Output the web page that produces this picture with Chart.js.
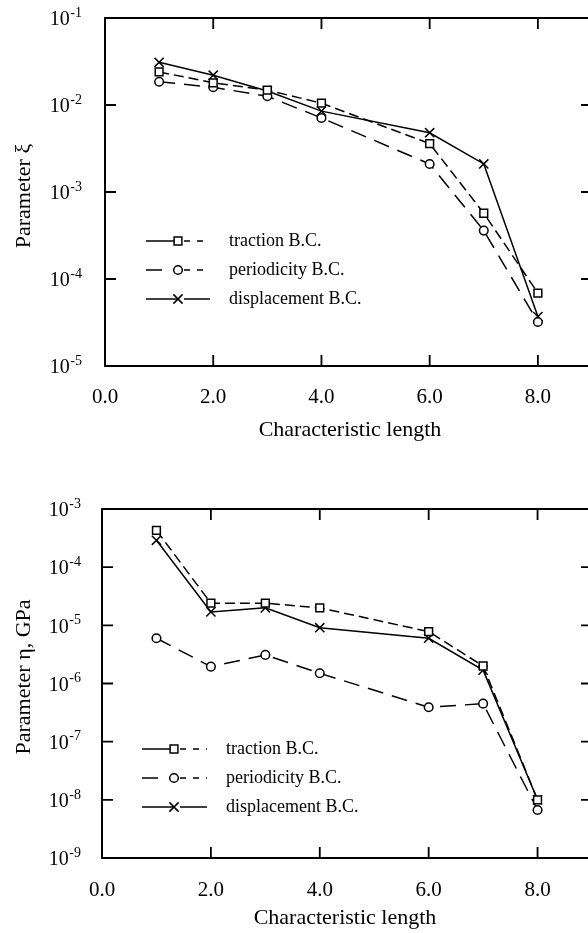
<!DOCTYPE html>
<html>
<head>
<meta charset="utf-8">
<script src="https://cdn.jsdelivr.net/npm/chart.js@4.4.1/dist/chart.umd.min.js"></script>
<style>
  html, body { margin: 0; padding: 0; background: #fff; overflow: hidden; width: 588px; height: 933px; }
  .wrap { position: absolute; left: 0; width: 600px; }
</style>
</head>
<body>
<div class="wrap" style="top:0;height:460px"><canvas id="xiChart" width="600" height="460"></canvas></div>
<div class="wrap" style="top:460px;height:473px"><canvas id="etaChart" width="600" height="473"></canvas></div>
<script>
// characteristic length (x)
const lengths = [1, 2, 3, 4, 6, 7, 8];
const seriesNames = ["traction B.C.", "periodicity B.C.", "displacement B.C."];

// parameter xi (top)
const xiTraction = [0.024, 0.018, 0.0148, 0.0105, 0.0036, 0.00057, 0.000069];
const xiPeriodicity = [0.0185, 0.016, 0.0126, 0.0071, 0.0021, 0.00036, 0.000032];
const xiDisplacement = [0.031, 0.022, 0.0145, 0.0085, 0.0048, 0.0021, 0.000037];

// parameter eta, GPa (bottom)
const etaTraction = [4.3e-4, 2.4e-5, 2.4e-5, 2.0e-5, 7.8e-6, 2.0e-6, 1.0e-8];
const etaPeriodicity = [6.0e-6, 1.95e-6, 3.1e-6, 1.5e-6, 3.9e-7, 4.5e-7, 6.7e-9];
const etaDisplacement = [2.9e-4, 1.7e-5, 2.0e-5, 9.1e-6, 6.0e-6, 1.7e-6, 1.0e-8];

// tick labels
const xTicks = [0, 2, 4, 6, 8];
const xiTicks = [1e-5, 1e-4, 1e-3, 1e-2, 1e-1];
const etaTicks = [1e-9, 1e-8, 1e-7, 1e-6, 1e-5, 1e-4, 1e-3];

const SERIF = '"Liberation Serif", "Times New Roman", serif';

// legend samples: pattern left of the marker, pattern right of it
const styles = [
  { pointStyle: "rect", pointRadius: 5.5, borderDash: [10, 5], legendLeft: [], legendRight: [6, 7] },
  { pointStyle: "circle", pointRadius: 4.3, borderDash: [16, 9], legendLeft: [16, 40], legendRight: [6, 7] },
  { pointStyle: "crossRot", pointRadius: 6.5, borderDash: [], legendLeft: [], legendRight: [] },
];

function marker(ctx, style, x, y) {
  ctx.save();
  ctx.setLineDash([]);
  ctx.lineWidth = 1.5;
  ctx.strokeStyle = "#000";
  ctx.fillStyle = "#fff";
  ctx.beginPath();
  if (style === "rect") {
    const s = 3.9;
    ctx.rect(x - s, y - s, 2 * s, 2 * s);
    ctx.fill();
  } else if (style === "circle") {
    ctx.arc(x, y, 4.3, 0, Math.PI * 2);
    ctx.fill();
  } else {
    const s = 4.6;
    ctx.moveTo(x - s, y - s); ctx.lineTo(x + s, y + s);
    ctx.moveTo(x - s, y + s); ctx.lineTo(x + s, y - s);
  }
  ctx.stroke();
  ctx.restore();
}

// frame, inward ticks, superscript labels, titles and legend
const paperFrame = {
  id: "paperFrame",
  afterDraw(chart, args, opts) {
    const { ctx, chartArea: a, scales } = chart;
    const xs = scales.x, ys = scales.y;
    ctx.save();
    ctx.strokeStyle = "#000";
    ctx.fillStyle = "#000";
    ctx.lineWidth = 2;
    ctx.strokeRect(a.left, a.top, a.right - a.left, a.bottom - a.top);

    const tl = 11;
    ctx.lineWidth = 1.8;
    ctx.beginPath();
    xs.ticks.forEach((t) => {
      const px = xs.getPixelForValue(t.value);
      if (px <= a.left + 1) return;
      ctx.moveTo(px, a.bottom); ctx.lineTo(px, a.bottom - tl);
      ctx.moveTo(px, a.top); ctx.lineTo(px, a.top + tl);
    });
    ys.ticks.forEach((t) => {
      const py = ys.getPixelForValue(t.value);
      if (py <= a.top + 1 || py >= a.bottom - 1) return;
      ctx.moveTo(a.left, py); ctx.lineTo(a.left + tl, py);
      ctx.moveTo(a.right, py); ctx.lineTo(a.right - tl, py);
    });
    ctx.stroke();

    // x tick labels
    ctx.font = `21px ${SERIF}`;
    ctx.textAlign = "center";
    ctx.textBaseline = "middle";
    xs.ticks.forEach((t) => {
      ctx.fillText(t.value.toFixed(1), xs.getPixelForValue(t.value), a.bottom + opts.xLabelGap);
    });

    // y tick labels, 10 with a raised exponent
    ys.ticks.forEach((t) => {
      const py = ys.getPixelForValue(t.value);
      const exp = String(Math.round(Math.log10(t.value)));
      ctx.font = `14px ${SERIF}`;
      const ew = ctx.measureText(exp).width;
      const ex = a.left - opts.yLabelGap - ew;
      ctx.textAlign = "left";
      ctx.fillText(exp, ex, py - 5);
      ctx.font = `20px ${SERIF}`;
      ctx.textAlign = "right";
      ctx.fillText("10", ex - 0.5, py + 2);
    });

    // axis titles
    ctx.font = `22px ${SERIF}`;
    ctx.textAlign = "center";
    ctx.fillText(opts.xTitle, opts.xTitleX, opts.xTitleY);
    ctx.save();
    ctx.translate(opts.yTitleX, opts.yTitleY);
    ctx.rotate(-Math.PI / 2);
    ctx.fillText(opts.yTitle, 0, 0);
    ctx.restore();

    // legend
    const lg = opts.legend;
    chart.data.datasets.forEach((ds, i) => {
      const y = lg.y + i * lg.dy;
      ctx.save();
      ctx.lineWidth = 1.5;
      ctx.setLineDash(styles[i].legendLeft);
      ctx.beginPath();
      ctx.moveTo(lg.x0, y);
      ctx.lineTo(lg.xm, y);
      ctx.stroke();
      ctx.setLineDash(styles[i].legendRight);
      ctx.beginPath();
      ctx.moveTo(lg.xm + 6, y);
      ctx.lineTo(lg.x1, y);
      ctx.stroke();
      ctx.restore();
      marker(ctx, ds.pointStyle, lg.xm, y);
      ctx.font = `18px ${SERIF}`;
      ctx.textAlign = "left";
      ctx.fillText(ds.label, lg.xt, y);
    });
    ctx.restore();
  },
};

function buildDatasets(values) {
  return values.map((vals, i) => ({
    label: seriesNames[i],
    data: lengths.map((x, j) => ({ x: x, y: vals[j] })),
    borderColor: "#000",
    borderWidth: 1.5,
    borderDash: styles[i].borderDash,
    pointStyle: styles[i].pointStyle,
    pointRadius: styles[i].pointRadius,
    pointBackgroundColor: "#fff",
    pointBorderColor: "#000",
    pointBorderWidth: 1.5,
    tension: 0,
    fill: false,
  }));
}

function makeChart(id, values, yMin, yMax, yTicks, layout, frame) {
  return new Chart(document.getElementById(id), {
    type: "line",
    data: { datasets: buildDatasets(values) },
    options: {
      responsive: false,
      animation: false,
      devicePixelRatio: 1,
      layout: { padding: { top: layout.top, right: layout.right, left: 0, bottom: 0 } },
      plugins: { legend: { display: false }, tooltip: { enabled: false }, paperFrame: frame },
      scales: {
        x: {
          type: "linear",
          min: 0,
          max: 9,
          grid: { display: false, drawTicks: false },
          border: { display: false },
          ticks: { display: false, includeBounds: false },
          afterBuildTicks: (s) => { s.ticks = xTicks.map((v) => ({ value: v })); },
          afterFit: (s) => { s.height = layout.xHeight; },
        },
        y: {
          type: "logarithmic",
          min: yMin,
          max: yMax,
          grid: { display: false, drawTicks: false },
          border: { display: false },
          ticks: { display: false },
          afterBuildTicks: (s) => { s.ticks = yTicks.map((v) => ({ value: v })); },
          afterFit: (s) => { s.width = layout.yWidth; },
        },
      },
    },
    plugins: [paperFrame],
  });
}

makeChart("xiChart", [xiTraction, xiPeriodicity, xiDisplacement], 1e-5, 1e-1, xiTicks,
  { top: 18, right: 4.5, xHeight: 94, yWidth: 105 },
  {
    xTitle: "Characteristic length", xTitleX: 350, xTitleY: 430,
    yTitle: "Parameter \u03BE", yTitleX: 24, yTitleY: 196,
    xLabelGap: 31, yLabelGap: 23,
    legend: { x0: 146, x1: 210, xm: 178, xt: 229, y: 241, dy: 29 },
  });

makeChart("etaChart", [etaTraction, etaPeriodicity, etaDisplacement], 1e-9, 1e-3, etaTicks,
  { top: 49, right: 7.5, xHeight: 75, yWidth: 102 },
  {
    xTitle: "Characteristic length", xTitleX: 345, xTitleY: 458,
    yTitle: "Parameter \u03B7, GPa", yTitleX: 24, yTitleY: 217,
    xLabelGap: 32, yLabelGap: 21,
    legend: { x0: 142, x1: 207, xm: 174, xt: 226, y: 289, dy: 29 },
  });
</script>
</body>
</html>
